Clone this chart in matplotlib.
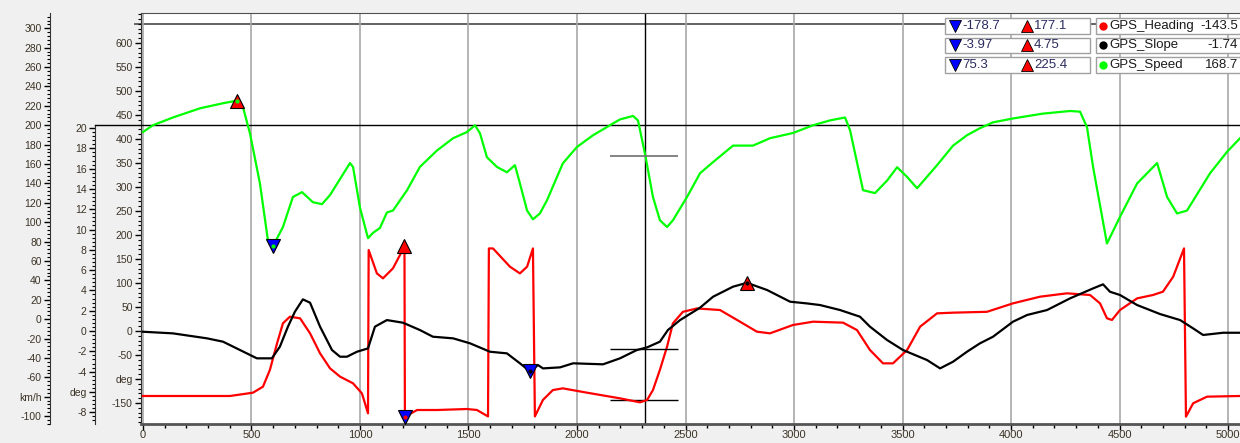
import numpy as np
import matplotlib.pyplot as plt
from matplotlib.patches import Rectangle
from matplotlib.ticker import MultipleLocator, FixedLocator

plt.rcParams['font.family'] = ['Liberation Sans', 'DejaVu Sans']

# GPS channels against distance
speed_x = [0, 46, 138, 263, 369, 433, 461, 493, 539, 576, 599, 645, 691, 733, 783, 825, 862,
           954, 968, 1000, 1037, 1060, 1092, 1124, 1152, 1217, 1276, 1355, 1429, 1493, 1530,
           1553, 1585, 1631, 1677, 1714, 1737, 1770, 1797, 1829, 1862, 1935, 2000, 2074, 2152,
           2198, 2258, 2281, 2315, 2350, 2382, 2415, 2442, 2507, 2567, 2627, 2719, 2811, 2889,
           2995, 3088, 3166, 3235, 3258, 3318, 3373, 3429, 3475, 3521, 3567, 3659, 3733, 3797,
           3857, 3917, 4009, 4147, 4272, 4318, 4350, 4378, 4442, 4502, 4581, 4673, 4719, 4765,
           4811, 4917, 4995, 5055]
speed_y = [193, 200, 208, 217.5, 222.7, 225.4, 218.6, 191.7, 140, 81, 75.3, 95, 126, 131, 120.6,
           118.6, 128, 161, 157, 115, 83.5, 89, 94, 110, 112, 133, 157, 174, 186.6, 193, 200,
           191.7, 167, 157, 151.5, 158.8, 140, 112, 103, 109, 122.7, 160.8, 177.6, 189.7, 200,
           206, 209.6, 205, 168.7, 126, 102, 95, 102, 126, 150.5, 162, 179, 179, 186.6, 192, 200,
           205, 208, 195, 133, 130, 143, 156.7, 146.7, 135, 158.8, 179, 189.7, 197, 203, 207,
           212, 214.7, 214, 198, 157, 78, 105.5, 140, 161, 126, 109, 112, 150.5, 172.5, 186.6]

slope_x = [0, 138, 295, 369, 447, 525, 594, 631, 668, 700, 737, 770, 816, 871, 908, 940, 986,
           1037, 1069, 1124, 1198, 1276, 1336, 1429, 1507, 1599, 1677, 1737, 1783, 1820, 1843,
           1922, 1982, 2120, 2198, 2276, 2323, 2382, 2419, 2475, 2567, 2627, 2719, 2783, 2876,
           2982, 3060, 3120, 3212, 3304, 3350, 3429, 3502, 3613, 3673, 3733, 3797, 3857, 3917,
           4009, 4074, 4166, 4272, 4378, 4424, 4456, 4502, 4581, 4687, 4779, 4839, 4885, 4977, 5055]
slope_y = [-0.07, -0.23, -0.72, -1.05, -1.87, -2.69, -2.69, -1.54, 0.43, 1.9, 3.12, 2.79, 0.43,
           -1.87, -2.53, -2.53, -2.04, -1.71, 0.43, 1.08, 0.82, 0.1, -0.56, -0.72, -1.21, -2.04,
           -2.2, -3.18, -3.97, -3.35, -3.68, -3.58, -3.18, -3.28, -2.69, -1.87, -1.61, -1.05, 0.1,
           1.08, 2.3, 3.38, 4.37, 4.75, 4.04, 2.89, 2.72, 2.56, 2.07, 1.41, 0.43, -0.89, -1.87,
           -2.86, -3.68, -3.02, -2.04, -1.21, -0.56, 0.92, 1.58, 2.07, 3.22, 4.2, 4.6, 3.87, 3.55,
           2.56, 1.67, 1.08, 0.26, -0.39, -0.17, -0.17]

hdg_x = [0, 401, 507, 553, 585, 618, 645, 677, 724, 770, 816, 862, 908, 968, 1009, 1037, 1040,
         1078, 1106, 1152, 1198, 1205, 1207, 1263, 1355, 1493, 1539, 1590, 1594, 1613, 1691, 1737,
         1770, 1797, 1806, 1843, 1889, 1935, 2046, 2198, 2290, 2323, 2350, 2382, 2415, 2442, 2488,
         2553, 2659, 2751, 2829, 2889, 2995, 3088, 3226, 3290, 3350, 3410, 3456, 3521, 3581, 3659,
         3733, 3889, 4009, 4134, 4258, 4364, 4410, 4442, 4465, 4502, 4581, 4654, 4700, 4747, 4797,
         4806, 4839, 4903, 5055]
hdg_y = [-135.4, -135.4, -128.5, -116, -81, -25.6, 16, 29.8, 26.4, -4.9, -46.5, -77.8, -95, -109,
         -130, -171.5, 168.7, 120, 109.7, 130.6, 170, 177.1, -178.7, -164.6, -164.6, -162.5,
         -164.6, -178, 172, 172, 134, 120, 134, 172, -178, -143.7, -123, -119.5, -128.5, -140.3,
         -148.6, -143.7, -123, -81, -32.6, 16, 40, 47, 43.7, 19.4, -1.4, -4.9, 12.5, 19.4, 17.4,
         2, -39.6, -67.4, -67.4, -39.6, 9, 36.8, 38.2, 40, 57.6, 71.5, 78.5, 75, 57.6, 26.4, 23,
         43.7, 68, 75, 81.9, 113, 172, -178.5, -150.6, -136.8, -135.4]

cursor_x = 2315
names = ['GPS_Heading', 'GPS_Slope', 'GPS_Speed']
colors = ['#ff0000', '#000000', '#00ff00']
cursor_vals = ['-143.5', '-1.74', '168.7']
decimals = [1, 2, 1]

W, H = 1240, 443
L, R, T, B = 141, 1240, 13, 424
fig = plt.figure(figsize=(W / 100, H / 100), dpi=100, facecolor='#f0f0f0')


def rect(top):
    return [L / W, (H - B) / H, (R - L) / W, (B - top) / H]


tick_col = '#3b3326'

# heading axis (inner) + the plot frame
ax = fig.add_axes(rect(T), label='hdg')
ax.set_facecolor('white')
ax.set_xlim(-9, 5055)
ax.set_ylim(-193.75, 662.5)
ax.xaxis.set_major_locator(MultipleLocator(500))
ax.xaxis.set_minor_locator(MultipleLocator(100))
ax.grid(axis='x', which='major', color='#a8a8a8', lw=1.2, zorder=0)
hdg_ticks = np.arange(-150, 601, 50)
ax.yaxis.set_major_locator(FixedLocator(hdg_ticks))
ax.set_yticklabels(['deg' if t == -100 else str(t) for t in hdg_ticks])
ax.yaxis.set_minor_locator(MultipleLocator(10))
ax.tick_params(axis='y', which='major', length=4, width=1, labelsize=7.5, labelcolor=tick_col, pad=2)
ax.tick_params(axis='y', which='minor', length=2, width=0.8)
ax.tick_params(axis='x', which='major', length=4, width=1, labelsize=8, labelcolor=tick_col, pad=0)
ax.tick_params(axis='x', which='minor', length=3, width=1)
ax.spines['right'].set_visible(False)
ax.spines['top'].set_color('#505050')
ax.spines['left'].set_color('#333333')
ax.spines['bottom'].set_color('#555555')
ax.spines['bottom'].set_linewidth(2)
ax.axhline(640, xmin=-6 / (R - L), xmax=1, color='#555555', lw=1.3, clip_on=False, zorder=1)
ax.axvline(cursor_x, color='black', lw=1, zorder=2)


def side_axis(top, label, pos, lim, ticks, swap, minor):
    a = fig.add_axes(rect(top), label=label)
    a.patch.set_visible(False)
    a.set_xlim(ax.get_xlim())
    a.set_ylim(*lim)
    a.xaxis.set_visible(False)
    for s in ['right', 'top', 'bottom']:
        a.spines[s].set_visible(False)
    a.spines['left'].set_position(('axes', pos))
    a.spines['left'].set_color('#333333')
    a.yaxis.set_major_locator(FixedLocator(ticks))
    a.set_yticklabels([swap[1] if t == swap[0] else '%g' % t for t in ticks])
    a.yaxis.set_minor_locator(MultipleLocator(minor))
    a.tick_params(axis='y', which='major', length=4, width=1, labelsize=7.5, labelcolor=tick_col, pad=2)
    a.tick_params(axis='y', which='minor', length=2, width=0.8)
    return a


ax_s = side_axis(125, 'slope', -46 / (R - L), (-9.16, 20.3), np.arange(-8, 21, 2), (-6, 'deg'), 0.4)
ax_v = side_axis(T, 'speed', -91 / (R - L), (-108.2, 315.8), np.arange(-100, 301, 20), (-80, 'km/h'), 4)
ax_v.axhline(200, xmin=-46 / (R - L), xmax=1, color='black', lw=1, clip_on=False)

# curves
ax.plot(hdg_x, hdg_y, color=colors[0], lw=1.6, zorder=3)
ax_s.plot(slope_x, slope_y, color=colors[1], lw=1.6)
ax_v.plot(speed_x, speed_y, color=colors[2], lw=1.6)

# cursor value ticks
ax.hlines(float(cursor_vals[0]), 2152, 2465, color='black', lw=1)
ax_s.hlines(float(cursor_vals[1]), 2152, 2465, color='black', lw=1)
ax_v.hlines(float(cursor_vals[2]), 2152, 2465, color='#707070', lw=1.2)

series = [(ax, hdg_x, hdg_y), (ax_s, slope_x, slope_y), (ax_v, speed_x, speed_y)]
mins, maxs = [], []
for (a, xs, ys), c, d in zip(series, colors, decimals):
    ys = np.array(ys)
    for i, m, fc in [(ys.argmax(), '^', '#ff0000'), (ys.argmin(), 'v', '#0000ff')]:
        a.plot(xs[i], ys[i], marker=m, ms=10, mfc=fc, mec='black', mew=0.8, clip_on=False, zorder=5)
        a.plot(xs[i], ys[i], marker='o', ms=3, color=c, mew=0, clip_on=False, zorder=6)
    mins.append('%.*f' % (d, ys.min()))
    maxs.append('%.*f' % (d, ys.max()))

# value table in the top right corner
ov = fig.add_axes([0, 0, 1, 1], label='overlay')
ov.set_xlim(0, W)
ov.set_ylim(H, 0)
ov.axis('off')
row_tops = [18, 37.5, 57]
for top, name, c, vmin, vmax, cur in zip(row_tops, names, colors, mins, maxs, cursor_vals):
    yc = top + 7.8
    ov.add_patch(Rectangle((945, top), 145, 15.5, fc='white', ec='#a0a0a0', lw=1))
    ov.add_patch(Rectangle((1096, top), 170, 15.5, fc='white', ec='#a0a0a0', lw=1, clip_on=False))
    ov.plot(955, yc, marker='v', ms=9, mfc='#0000ff', mec='black', mew=0.6)
    ov.text(962, yc, vmin, ha='left', va='center', fontsize=9.5, color='#2b2b60')
    ov.plot(1027, yc, marker='^', ms=9, mfc='#ff0000', mec='black', mew=0.6)
    ov.text(1034, yc, vmax, ha='left', va='center', fontsize=9.5, color='#2b2b60')
    ov.plot(1103, yc, marker='o', ms=6, color=c, mew=0)
    ov.text(1109, yc, name, ha='left', va='center', fontsize=9.5, color='#1a1a1a')
    ov.text(1238, yc, cur, ha='right', va='center', fontsize=9.5, color='#1a1a1a')

fig.savefig('out.png', dpi=100, facecolor=fig.get_facecolor())
